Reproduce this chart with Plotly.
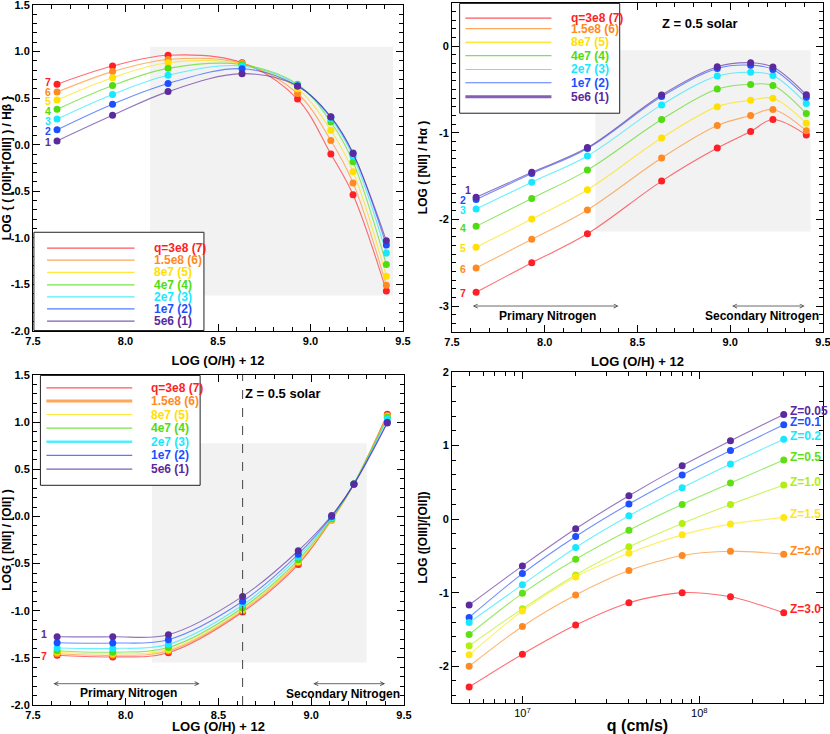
import plotly.graph_objects as go

# ---------------- data ----------------
OH = [7.63, 7.93, 8.23, 8.63, 8.93, 9.11, 9.23, 9.41]
Q_LABELS = ["q=3e8 (7)", "1.5e8 (6)", "8e7 (5)", "4e7 (4)", "2e7 (3)", "1e7 (2)", "5e6 (1)"]
Q_NUMS = ["7", "6", "5", "4", "3", "2", "1"]

R23 = [
    [0.65, 0.845, 0.96, 0.88, 0.49, -0.10, -0.537, -1.57],
    [0.565, 0.785, 0.915, 0.873, 0.55, 0.046, -0.41, -1.51],
    [0.48, 0.72, 0.88, 0.866, 0.60, 0.155, -0.29, -1.413],
    [0.38, 0.636, 0.82, 0.86, 0.65, 0.244, -0.184, -1.286],
    [0.275, 0.54, 0.745, 0.845, 0.64, 0.28, -0.124, -1.163],
    [0.16, 0.435, 0.657, 0.816, 0.63, 0.30, -0.088, -1.078],
    [0.04, 0.315, 0.57, 0.763, 0.63, 0.297, -0.095, -1.032],
]

N2HA = [
    [-2.84, -2.50, -2.166, -1.557, -1.175, -0.984, -0.846, -1.026],
    [-2.56, -2.23, -1.89, -1.29, -0.915, -0.80, -0.73, -0.976],
    [-2.32, -1.995, -1.657, -1.06, -0.697, -0.624, -0.60, -0.89],
    [-2.08, -1.757, -1.43, -0.846, -0.494, -0.44, -0.452, -0.777],
    [-1.88, -1.57, -1.267, -0.677, -0.344, -0.30, -0.337, -0.662],
    [-1.77, -1.47, -1.18, -0.58, -0.256, -0.218, -0.268, -0.59],
    [-1.745, -1.455, -1.17, -0.563, -0.237, -0.19, -0.24, -0.56],
]

N2O2 = [
    [-1.473, -1.49, -1.445, -1.014, -0.509, -0.03, 0.345, 1.085],
    [-1.456, -1.473, -1.427, -1.0, -0.49, -0.04, 0.345, 1.07],
    [-1.44, -1.456, -1.413, -0.986, -0.477, -0.03, 0.345, 1.06],
    [-1.424, -1.44, -1.39, -0.968, -0.46, -0.025, 0.345, 1.053],
    [-1.395, -1.40, -1.357, -0.94, -0.43, -0.014, 0.345, 1.035],
    [-1.34, -1.343, -1.307, -0.90, -0.40, 0.0, 0.345, 1.0],
    [-1.276, -1.276, -1.254, -0.848, -0.364, 0.01, 0.34, 0.99],
]

Q_VALUES = [5e6, 1e7, 2e7, 4e7, 8e7, 1.5e8, 3e8]
Z_LABELS = ["Z=0.05", "Z=0.1", "Z=0.2", "Z=0.5", "Z=1.0", "Z=1.5", "Z=2.0", "Z=3.0"]
O32 = [
    [-1.168, -0.636, -0.132, 0.318, 0.727, 1.064, 1.423],
    [-1.336, -0.741, -0.236, 0.205, 0.60, 0.932, 1.282],
    [-1.405, -0.891, -0.386, 0.045, 0.427, 0.75, 1.086],
    [-1.568, -1.009, -0.545, -0.15, 0.20, 0.49, 0.805],
    [-1.723, -1.218, -0.759, -0.377, -0.059, 0.20, 0.464],
    [-1.845, -1.25, -0.786, -0.464, -0.214, -0.068, 0.023],
    [-2.0, -1.459, -1.032, -0.70, -0.495, -0.436, -0.477],
    [-2.282, -1.836, -1.441, -1.136, -1.0, -1.055, -1.273],
]

# ---------------- styles ----------------
Q_COLORS = ["#ff1f26", "#ff8a24", "#ffe000", "#4fdc10", "#18e8ff", "#1d4fff", "#5a2a9e"]
Z_COLORS = ["#5a2a9e", "#1d4fff", "#18e8ff", "#5ee014", "#b2ee10", "#ffe614", "#ff8a24", "#ff1f26"]
FONT = "Liberation Sans, Arial, Helvetica, sans-serif"
W, H = 830, 734


def fade(hex_color, a=0.65):
    h = hex_color.lstrip("#")
    r, g, b = int(h[0:2], 16), int(h[2:4], 16), int(h[4:6], 16)
    return f"rgba({r},{g},{b},{a})"


fig = go.Figure()

panels = [("x", "y", R23), ("x2", "y2", N2HA), ("x3", "y3", N2O2)]
for xa, ya, data in panels:
    for i, vals in enumerate(data):
        fig.add_trace(go.Scatter(
            x=OH, y=vals, xaxis=xa, yaxis=ya, mode="lines+markers",
            line=dict(color=fade(Q_COLORS[i]), width=1.1, shape="spline", smoothing=1.0),
            marker=dict(color=Q_COLORS[i], size=7), showlegend=False, hoverinfo="skip"))

for i, vals in enumerate(O32):
    fig.add_trace(go.Scatter(
        x=Q_VALUES, y=vals, xaxis="x4", yaxis="y4", mode="lines+markers",
        line=dict(color=fade(Z_COLORS[i]), width=1.1, shape="spline", smoothing=0.8),
        marker=dict(color=Z_COLORS[i], size=7), showlegend=False, hoverinfo="skip"))


def dom(x0, x1, y0, y1):
    return [x0 / W, x1 / W], [1 - y1 / H, 1 - y0 / H]


tickfont = dict(family=FONT, size=11, color="black", weight="bold")
xtitlefont = dict(family=FONT, size=13, color="black", weight="bold")
ytitlefont = dict(family=FONT, size=12, color="black", weight="bold")
numfont = lambda c: dict(family=FONT, size=10.5, color=c, weight="bold")


def axis_common():
    return dict(showline=True, linecolor="black", linewidth=1, mirror="ticks",
                ticks="inside", ticklen=7, tickcolor="black", showgrid=False,
                zeroline=False, tickfont=tickfont, automargin=False,
                ticklabeloverflow="allow")


def lin_ticks(vals, fmt):
    return dict(tickmode="array", tickvals=vals, ticktext=[fmt(v) for v in vals])


oh_ticks = [7.5, 8.0, 8.5, 9.0, 9.5]
xd1, yd1 = dom(33, 403, 5, 331)
xd2, yd2 = dom(452, 823, 3, 332)
xd3, yd3 = dom(33, 404, 375, 705)
xd4, yd4 = dom(452, 823, 372, 703)

minor_x = dict(ticks="inside", dtick=0.1, ticklen=4, tickcolor="black")

layout_axes = {}
layout_axes["xaxis"] = dict(domain=xd1, anchor="y", range=[7.5, 9.5],
                            title=dict(text="LOG (O/H) + 12", font=xtitlefont, standoff=9),
                            minor=minor_x, **lin_ticks(oh_ticks, lambda v: f"{v:.1f}"), **axis_common())
layout_axes["yaxis"] = dict(domain=yd1, anchor="x", range=[-2.0, 1.5],
                            title=dict(text="LOG { ( [OII]+[OIII] ) / Hβ }", font=ytitlefont, standoff=7),
                            minor=dict(ticks="inside", dtick=0.1, ticklen=4, tickcolor="black"),
                            **lin_ticks([-2.0, -1.5, -1.0, -0.5, 0.0, 0.5, 1.0, 1.5], lambda v: f"{v:.1f}"),
                            **axis_common())
layout_axes["xaxis2"] = dict(domain=xd2, anchor="y2", range=[7.5, 9.5],
                             title=dict(text="LOG (O/H) + 12", font=xtitlefont, standoff=9),
                             minor=minor_x, **lin_ticks(oh_ticks, lambda v: f"{v:.1f}"), **axis_common())
layout_axes["yaxis2"] = dict(domain=yd2, anchor="x2", range=[-3.3, 0.5],
                             title=dict(text="LOG ( [NII] / Hα )", font=ytitlefont, standoff=8),
                             minor=dict(ticks="inside", dtick=0.1, ticklen=4, tickcolor="black"),
                             **lin_ticks([-3, -2, -1, 0], lambda v: f"{v:d}"), **axis_common())
layout_axes["xaxis3"] = dict(domain=xd3, anchor="y3", range=[7.5, 9.5],
                             title=dict(text="LOG (O/H) + 12", font=xtitlefont, standoff=9),
                             minor=minor_x, **lin_ticks(oh_ticks, lambda v: f"{v:.1f}"), **axis_common())
layout_axes["yaxis3"] = dict(domain=yd3, anchor="x3", range=[-2.0, 1.5],
                             title=dict(text="LOG ( [NII] / [OII] )", font=ytitlefont, standoff=7),
                             minor=dict(ticks="inside", dtick=0.1, ticklen=4, tickcolor="black"),
                             **lin_ticks([-2.0, -1.5, -1.0, -0.5, 0.0, 0.5, 1.0, 1.5], lambda v: f"{v:.1f}"),
                             **axis_common())
minor_log = [m * 10 ** e for e in (6, 7, 8) for m in range(2, 10) if 4e6 <= m * 10 ** e <= 5e8]
layout_axes["xaxis4"] = dict(domain=xd4, anchor="y4", type="log", range=[6.6021, 8.699],
                             title=dict(text="q (cm/s)", font=dict(family=FONT, size=16, color="black", weight="bold"), standoff=4),
                             tickmode="array", tickvals=[1e7, 1e8], ticktext=["10<sup>7</sup>", "10<sup>8</sup>"],
                             minor=dict(ticks="inside", tickvals=minor_log, ticklen=4, tickcolor="black"),
                             **axis_common())
layout_axes["xaxis4"]["tickfont"] = dict(family=FONT, size=11, color="black")
layout_axes["yaxis4"] = dict(domain=yd4, anchor="x4", range=[-2.5, 2.0],
                             title=dict(text="LOG ([OIII]/[OII])", font=ytitlefont, standoff=8),
                             minor=dict(ticks="inside", dtick=0.2, ticklen=4, tickcolor="black"),
                             **lin_ticks([-2, -1, 0, 1, 2], lambda v: f"{v:d}"), **axis_common())

shapes = []
annotations = []
GRAY = "#f2f2f2"
# shaded regions
shapes.append(dict(type="rect", xref="x", yref="y", x0=8.133, x1=9.446, y0=-1.62, y1=1.053,
                   fillcolor=GRAY, line_width=0, layer="below"))
shapes.append(dict(type="rect", xref="x2", yref="y2", x0=8.273, x1=9.433, y0=-2.14, y1=-0.046,
                   fillcolor=GRAY, line_width=0, layer="below"))
shapes.append(dict(type="rect", xref="x3", yref="y3", x0=8.141, x1=9.299, y0=-1.548, y1=0.777,
                   fillcolor=GRAY, line_width=0, layer="below"))
shapes.append(dict(type="rect", xref="x4", yref="y4", x0=6.692, x1=7.806, y0=-2.341, y1=0.795,
                   fillcolor=GRAY, line_width=0, layer="below"))

# dashed line panel 3
shapes.append(dict(type="line", xref="x3", yref="y3 domain", x0=8.63, x1=8.63, y0=0, y1=1,
                   line=dict(color="#444", width=1, dash="dash")))


def legend(xr, yr, box, line_x, text_x, rows, thick=None):
    shapes.append(dict(type="rect", xref=xr, yref=yr, x0=box[0], x1=box[1], y0=box[2], y1=box[3],
                       fillcolor="white", line=dict(color="#222", width=1), layer="above"))
    for i, yv in enumerate(rows):
        w = 1.2
        if thick and i in thick:
            w = thick[i]
        shapes.append(dict(type="line", xref=xr, yref=yr, x0=line_x[0], x1=line_x[1], y0=yv, y1=yv,
                           line=dict(color=fade(Q_COLORS[i], 0.75), width=w), layer="above"))
        annotations.append(dict(xref=xr, yref=yr, x=text_x, y=yv, text=Q_LABELS[i], showarrow=False,
                                xanchor="left", yanchor="middle",
                                font=dict(family=FONT, size=12, color=Q_COLORS[i], weight="bold")))


legend("x", "y", (7.505, 8.424, -1.995, -0.94), (7.576, 8.049), 8.142,
       [-1.11, -1.24, -1.37, -1.505, -1.633, -1.763, -1.894])
legend("x2", "y2", (7.541, 8.404, -0.773, 0.495), (7.572, 8.036), 8.129,
       [0.325, 0.203, 0.046, -0.107, -0.268, -0.421, -0.582], thick={2: 1.8, 6: 3})
legend("x3", "y3", (7.54, 8.401, 0.33, 1.495), (7.572, 8.035), 8.128,
       [1.364, 1.223, 1.081, 0.936, 0.792, 0.647, 0.502], thick={1: 3, 4: 2.5})

# number labels
for i, yv in enumerate([0.675, 0.565, 0.466, 0.367, 0.26, 0.145, 0.032]):
    annotations.append(dict(xref="x", yref="y", x=7.61, y=yv, text=Q_NUMS[i], showarrow=False,
                            xanchor="right", font=numfont(Q_COLORS[i])))
p2_num = [(7.585, -2.85), (7.585, -2.576), (7.585, -2.334), (7.585, -2.097), (7.585, -1.894), (7.585, -1.78), (7.615, -1.657)]
for i, (xv, yv) in enumerate(p2_num):
    annotations.append(dict(xref="x2", yref="y2", x=xv, y=yv, text=Q_NUMS[i], showarrow=False,
                            xanchor="right", font=numfont(Q_COLORS[i])))
annotations.append(dict(xref="x3", yref="y3", x=7.585, y=-1.244, text="1", showarrow=False, xanchor="right",
                        font=numfont(Q_COLORS[6])))
annotations.append(dict(xref="x3", yref="y3", x=7.585, y=-1.484, text="7", showarrow=False, xanchor="right",
                        font=numfont(Q_COLORS[0])))

# Z labels
annotations.append(dict(xref="x2", yref="y2", x=8.835, y=0.268, text="Z = 0.5 solar", showarrow=False,
                        font=dict(family=FONT, size=13, color="black", weight="bold")))
annotations.append(dict(xref="x3", yref="y3", x=8.846, y=1.307, text="Z = 0.5 solar", showarrow=False,
                        font=dict(family=FONT, size=13, color="black", weight="bold")))


# nitrogen arrows
def narrow(xr, yr, xa, xb, ya, text_x, text_y, label):
    annotations.append(dict(xref=xr, yref=yr, axref=xr, ayref=yr, x=xb, y=ya, ax=xa, ay=ya, text="",
                            showarrow=True, arrowhead=5, startarrowhead=5, arrowside="end+start",
                            arrowsize=1, arrowwidth=0.8, arrowcolor="#444"))
    annotations.append(dict(xref=xr, yref=yr, x=text_x, y=text_y, text=label, showarrow=False,
                            font=dict(family=FONT, size=12, color="black", weight="bold")))


narrow("x2", "y2", 7.604, 8.398, -3.0, 8.017, -3.11, "Primary Nitrogen")
narrow("x2", "y2", 9.002, 9.401, -3.0, 9.173, -3.11, "Secondary Nitrogen")
narrow("x3", "y3", 7.602, 8.398, -1.774, 8.015, -1.87, "Primary Nitrogen")
narrow("x3", "y3", 9.003, 9.398, -1.774, 9.173, -1.88, "Secondary Nitrogen")

# Z labels panel 4
z_label_y = [1.468, 1.327, 1.127, 0.85, 0.509, 0.064, -0.436, -1.218]
for i, yv in enumerate(z_label_y):
    annotations.append(dict(xref="x4", yref="y4", x=8.50, y=yv, text=Z_LABELS[i], showarrow=False,
                            xanchor="left", font=dict(family=FONT, size=12, color=Z_COLORS[i], weight="bold")))

fig.update_layout(width=W, height=H, margin=dict(l=0, r=0, t=0, b=0),
                  paper_bgcolor="white", plot_bgcolor="white", showlegend=False,
                  shapes=shapes, annotations=annotations, **layout_axes)

fig.write_html("out.html", config={"displayModeBar": False},
               post_script="document.body.style.margin='0px';document.body.style.overflow='hidden';")
